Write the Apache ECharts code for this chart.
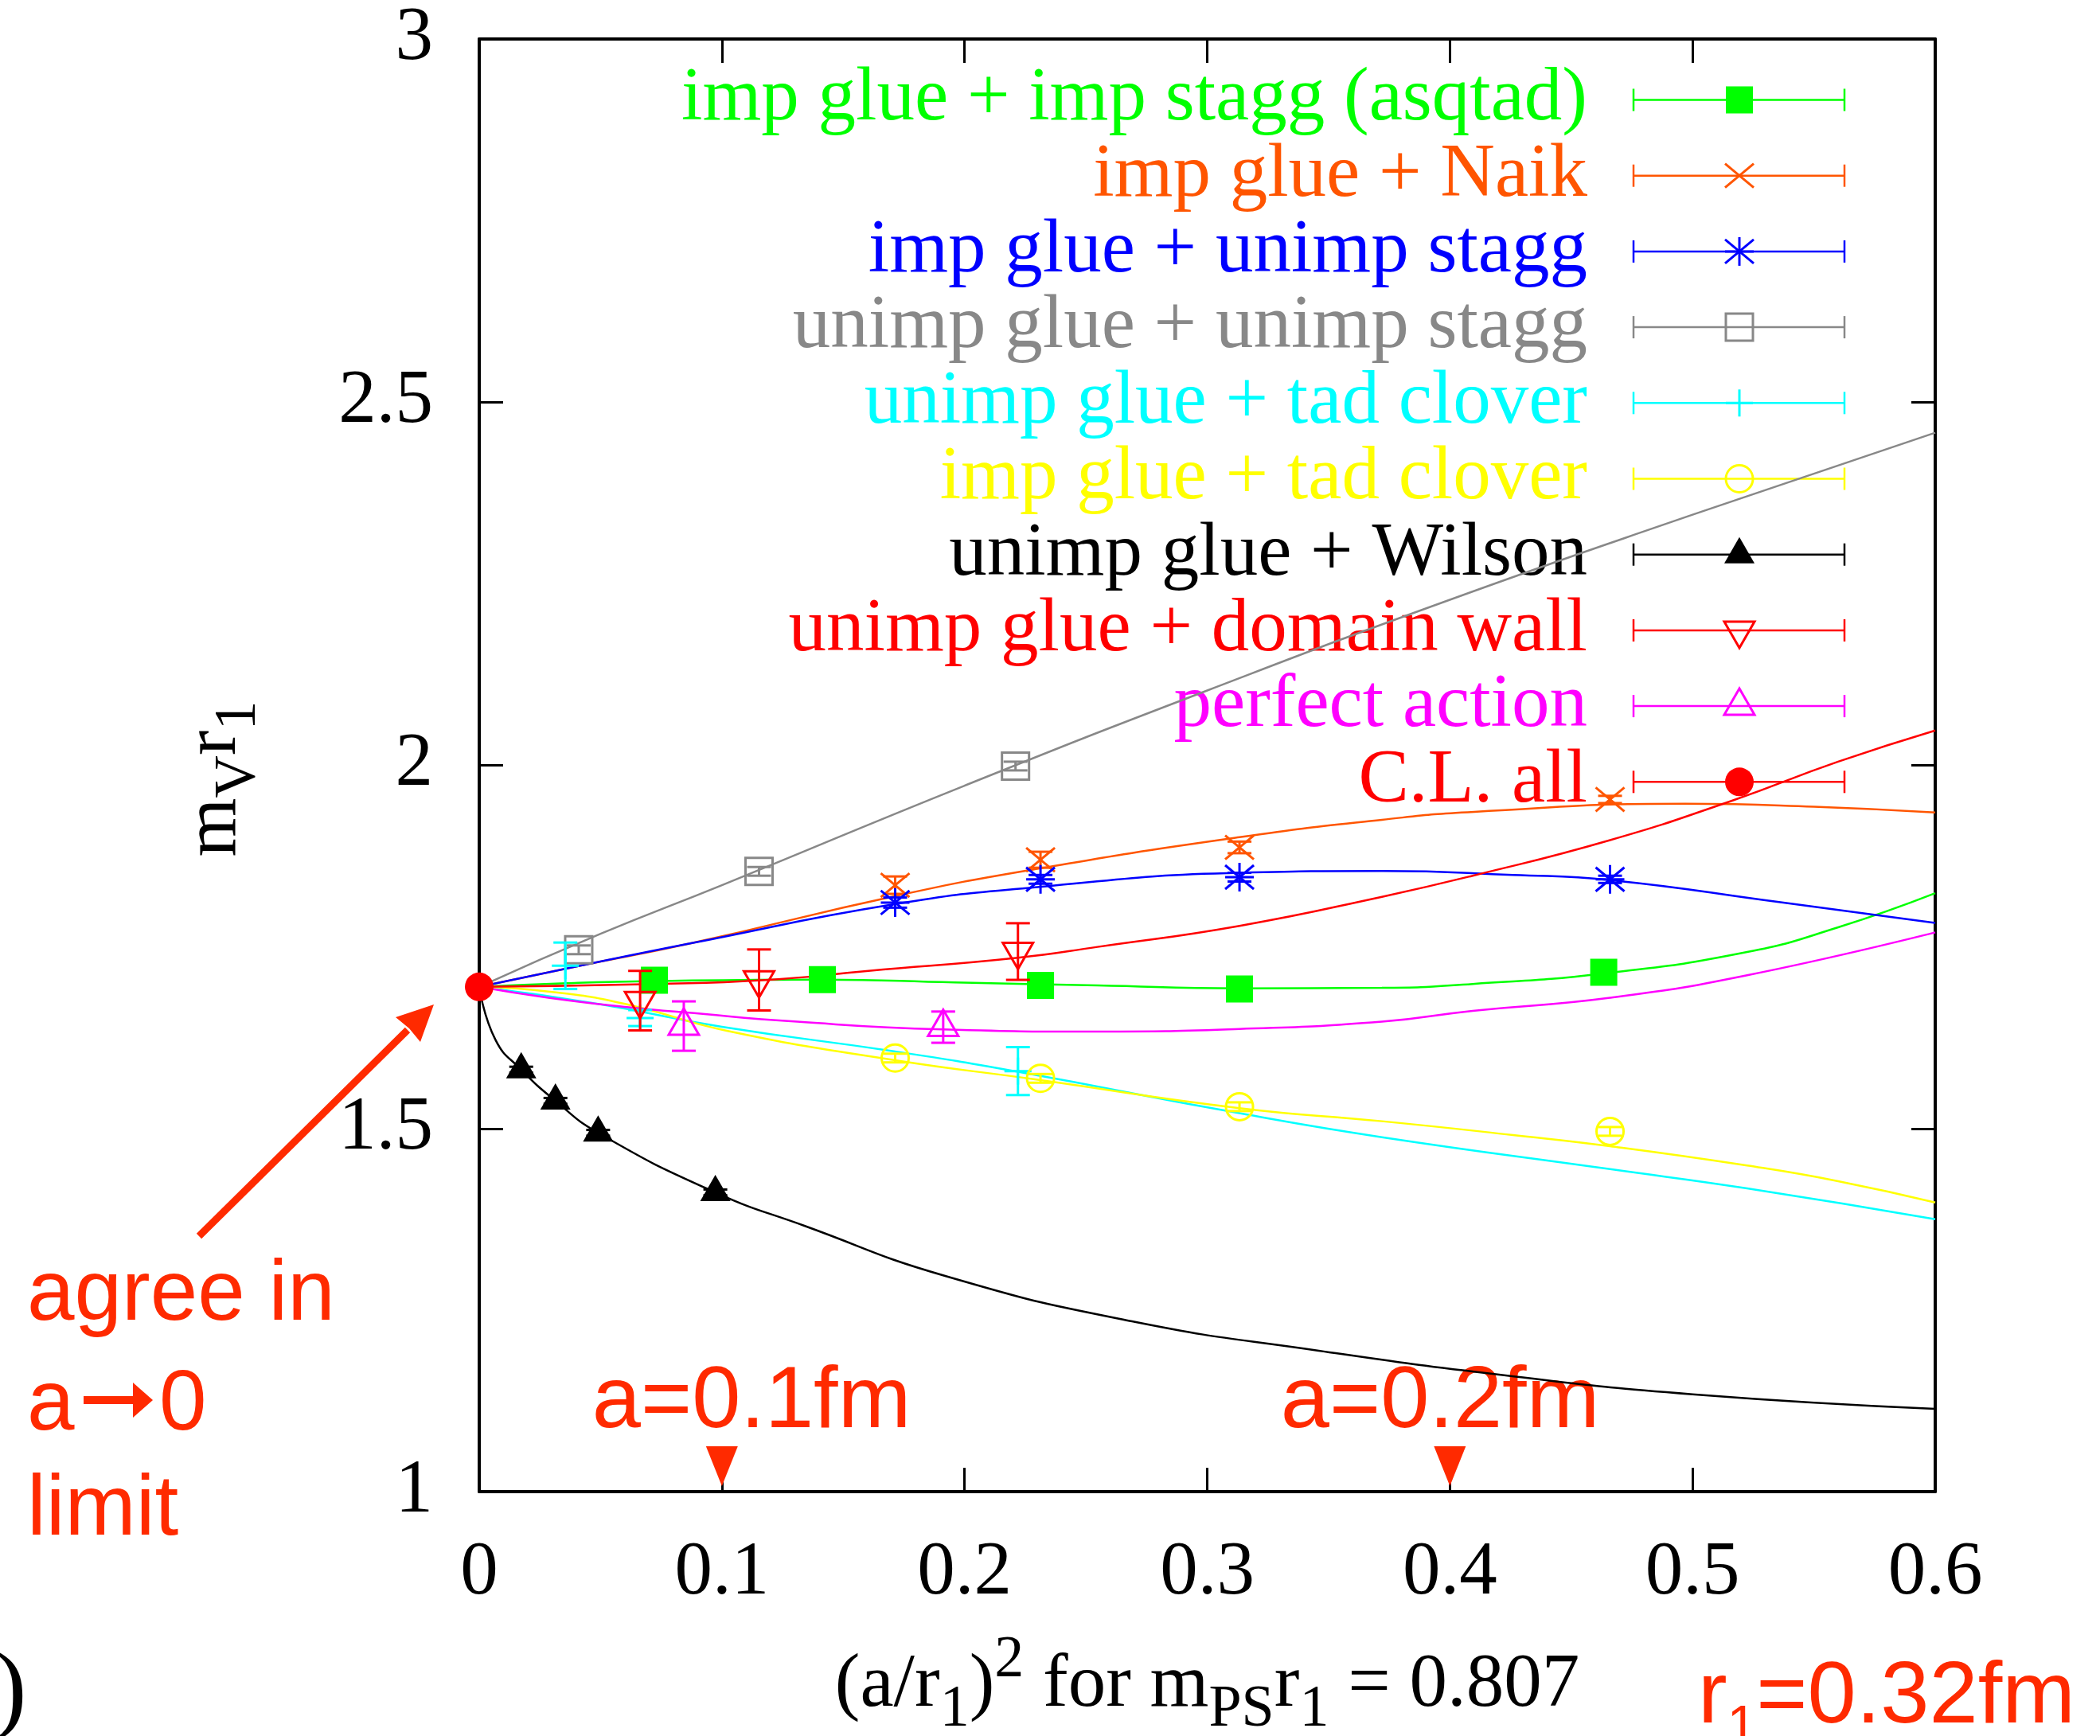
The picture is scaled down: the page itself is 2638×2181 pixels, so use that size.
<!DOCTYPE html>
<html>
<head>
<meta charset="utf-8">
<title>m_V r_1 vs (a/r_1)^2</title>
<script src="https://cdn.jsdelivr.net/npm/echarts@6.0.0/dist/echarts.min.js"></script>
<style>
  html, body { margin: 0; padding: 0; background: #fff; }
  #chart { width: 2638px; height: 2181px; }
</style>
</head>
<body>
<div id="chart"></div>
<script>
// points: [ (a/r1)^2, m_V r1, error ]
const clAll = [[0, 1.695, 0]];
const asqtadPts = [[0.0722, 1.704, 0.004], [0.1414, 1.705, 0.004], [0.2313, 1.697, 0.004], [0.3133, 1.692, 0.004], [0.4634, 1.715, 0.004]];
const naikPts = [[0.1714, 1.835, 0.012], [0.2313, 1.870, 0.011], [0.3133, 1.887, 0.008], [0.466, 1.953, 0.005]];
const unimpStaggPts = [[0.1714, 1.811, 0.007], [0.2313, 1.843, 0.006], [0.3133, 1.846, 0.006], [0.466, 1.843, 0.005]];
const unimpUnimpPts = [[0.041, 1.746, 0.006], [0.1153, 1.854, 0.006], [0.221, 1.999, 0.006]];
const unimpCloverPts = [[0.0355, 1.724, 0.032], [0.0663, 1.652, 0.011], [0.222, 1.579, 0.033]];
const impCloverPts = [[0.1714, 1.597, 0.006], [0.2313, 1.569, 0.006], [0.3133, 1.530, 0.006], [0.466, 1.496, 0.006]];
const wilsonPts = [[0.0173, 1.581, 0.004], [0.0314, 1.538, 0.004], [0.049, 1.494, 0.004], [0.0973, 1.412, 0.004]];
const domainWallPts = [[0.0663, 1.676, 0.041], [0.1153, 1.7045, 0.042], [0.222, 1.7436, 0.039]];
const perfectPts = [[0.0843, 1.641, 0.034], [0.1912, 1.6395, 0.0215]];

// fit curves, read at a handful of x values
const asqtadFit = [[0, 1.695], [0.036, 1.700], [0.0725, 1.703], [0.1414, 1.705], [0.196, 1.701], [0.2548, 1.697], [0.3133, 1.693], [0.372, 1.6936], [0.4094, 1.699], [0.4634, 1.7135], [0.5225, 1.743], [0.56, 1.777], [0.6, 1.824]];
const naikFit = [[0, 1.695], [0.04, 1.723], [0.0873, 1.755], [0.1714, 1.820], [0.229, 1.857], [0.3133, 1.901], [0.372, 1.925], [0.41, 1.936], [0.497, 1.947], [0.55, 1.943], [0.6, 1.935]];
const unimpStaggFit = [[0, 1.695], [0.04, 1.723], [0.0873, 1.755], [0.1714, 1.809], [0.229, 1.832], [0.3133, 1.852], [0.372, 1.8545], [0.426, 1.849], [0.466, 1.842], [0.535, 1.812], [0.6, 1.783]];
const unimpUnimpFit = [[0, 1.695], [0.05, 1.768], [0.1, 1.835], [0.2, 1.972], [0.3, 2.103], [0.4, 2.228], [0.5, 2.345], [0.6, 2.458]];
const unimpCloverFit = [[0, 1.695], [0.05, 1.671], [0.1, 1.640], [0.1714, 1.606], [0.222, 1.578], [0.3133, 1.521], [0.372, 1.488], [0.466, 1.444], [0.5225, 1.4175], [0.6, 1.375]];
const impCloverFit = [[0, 1.695], [0.03, 1.688], [0.0609, 1.671], [0.102, 1.6345], [0.1714, 1.594], [0.229, 1.5677], [0.3133, 1.528], [0.372, 1.510], [0.426, 1.491], [0.466, 1.4756], [0.5225, 1.449], [0.56, 1.4275], [0.6, 1.398]];
const wilsonFit = [[0, 1.695], [0.0067, 1.622], [0.0173, 1.581], [0.0314, 1.538], [0.049, 1.494], [0.0973, 1.412], [0.134, 1.366], [0.192, 1.297], [0.269, 1.2345], [0.346, 1.194], [0.423, 1.160], [0.5, 1.134], [0.6, 1.114]];
const domainWallFit = [[0, 1.695], [0.0725, 1.699], [0.1165, 1.704], [0.1604, 1.717], [0.222, 1.735], [0.2548, 1.750], [0.3133, 1.779], [0.372, 1.819], [0.4094, 1.848], [0.466, 1.897], [0.516, 1.951], [0.56, 2.005], [0.6, 2.048]];
const perfectFit = [[0, 1.695], [0.0285, 1.680], [0.0609, 1.667], [0.0843, 1.660], [0.131, 1.647], [0.191, 1.6364], [0.2548, 1.6334], [0.3133, 1.637], [0.372, 1.647], [0.4094, 1.662], [0.466, 1.680], [0.5225, 1.711], [0.6, 1.770]];

// lattice spacing markers a=0.1fm, a=0.2fm
const spacingX = [0.1, 0.4];
const spacingLabels = ['a=0.1fm', 'a=0.2fm'];

const legendNames = [
  'imp glue + imp stagg (asqtad)', 'imp glue + Naik', 'imp glue + unimp stagg',
  'unimp glue + unimp stagg', 'unimp glue + tad clover', 'imp glue + tad clover',
  'unimp glue + Wilson', 'unimp glue + domain wall', 'perfect action', 'C.L. all'
];

const SERIF = '"Liberation Serif", "Times New Roman", serif';
const SANS = '"Liberation Sans", Arial, sans-serif';
const NOTE = '#ff2a00';

const sets = [
  { pts: asqtadPts, fit: asqtadFit, color: '#00ff00', marker: 'squareFill' },
  { pts: naikPts, fit: naikFit, color: '#ff5500', marker: 'cross' },
  { pts: unimpStaggPts, fit: unimpStaggFit, color: '#0000ff', marker: 'star' },
  { pts: unimpUnimpPts, fit: unimpUnimpFit, color: '#888888', marker: 'squareOpen' },
  { pts: unimpCloverPts, fit: unimpCloverFit, color: '#00ffff', marker: 'plus' },
  { pts: impCloverPts, fit: impCloverFit, color: '#ffff00', marker: 'circleOpen' },
  { pts: wilsonPts, fit: wilsonFit, color: '#000000', marker: 'triUpFill' },
  { pts: domainWallPts, fit: domainWallFit, color: '#ff0000', marker: 'triDownOpen' },
  { pts: perfectPts, fit: perfectFit, color: '#ff00ff', marker: 'triUpOpen' },
  { pts: clAll, fit: null, color: '#ff0000', marker: 'circleFill' }
];

// gnuplot-like point types as zrender shapes
function markerShapes(kind, cx, cy, color) {
  const s = 17, lw = 3;
  const line = (x1, y1, x2, y2) => ({ type: 'line', shape: { x1, y1, x2, y2 }, style: { stroke: color, lineWidth: lw } });
  const tri = (down, filled) => {
    const h = 33, w = 19, sgn = down ? -1 : 1;
    return {
      type: 'polygon',
      shape: { points: [[cx, cy - sgn * h * 2 / 3], [cx + w, cy + sgn * h / 3], [cx - w, cy + sgn * h / 3]] },
      style: filled ? { fill: color } : { fill: 'none', stroke: color, lineWidth: lw }
    };
  };
  switch (kind) {
    case 'squareFill':
      return [{ type: 'rect', shape: { x: cx - s, y: cy - s, width: 2 * s, height: 2 * s }, style: { fill: color } }];
    case 'squareOpen':
      return [{ type: 'rect', shape: { x: cx - s, y: cy - s, width: 2 * s, height: 2 * s }, style: { fill: 'none', stroke: color, lineWidth: lw } }];
    case 'cross':
      return [line(cx - 18, cy - 15, cx + 18, cy + 15), line(cx - 18, cy + 15, cx + 18, cy - 15)];
    case 'star':
      return [line(cx - 18, cy - 15, cx + 18, cy + 15), line(cx - 18, cy + 15, cx + 18, cy - 15),
              line(cx, cy - 18, cx, cy + 18), line(cx - 18, cy, cx + 18, cy)];
    case 'plus':
      return [line(cx, cy - 17, cx, cy + 17), line(cx - 17, cy, cx + 17, cy)];
    case 'circleOpen':
      return [{ type: 'circle', shape: { cx, cy, r: 17 }, style: { fill: 'none', stroke: color, lineWidth: lw } }];
    case 'circleFill':
      return [{ type: 'circle', shape: { cx, cy, r: 18 }, style: { fill: color } }];
    case 'triUpFill': return [tri(false, true)];
    case 'triUpOpen': return [tri(false, false)];
    case 'triDownOpen': return [tri(true, false)];
  }
  return [];
}

const series = [];
sets.forEach((set, i) => {
  if (set.fit) {
    series.push({
      type: 'line', name: legendNames[i] + ' fit', data: set.fit,
      showSymbol: false, smooth: 0.5, z: 2,
      lineStyle: { color: set.color, width: 2.5 }
    });
  }
  series.push({
    type: 'custom', name: legendNames[i], data: set.pts, z: 4,
    dimensions: ['x', 'y', 'err'], encode: { x: 0, y: 1 },
    renderItem(params, api) {
      const x = api.value(0), y = api.value(1), e = api.value(2);
      const c = api.coord([x, y]);
      const children = [];
      if (e > 0) {
        const top = api.coord([x, y + e]), bot = api.coord([x, y - e]);
        const st = { stroke: set.color, lineWidth: 3 };
        children.push({ type: 'line', shape: { x1: c[0], y1: top[1], x2: c[0], y2: bot[1] }, style: st });
        children.push({ type: 'line', shape: { x1: c[0] - 15, y1: top[1], x2: c[0] + 15, y2: top[1] }, style: st });
        children.push({ type: 'line', shape: { x1: c[0] - 15, y1: bot[1], x2: c[0] + 15, y2: bot[1] }, style: st });
      }
      return { type: 'group', children: children.concat(markerShapes(set.marker, c[0], c[1], set.color)) };
    }
  });
});

series.push({
  type: 'scatter', name: 'spacing', z: 5,
  data: spacingX.map(x => [x, 1.035]),
  symbol: 'triangle', symbolRotate: 180, symbolSize: [40, 50],
  itemStyle: { color: NOTE, opacity: 1 }
});

// legend drawn by hand: text on the left, error-bar sample on the right
const graphics = [];
legendNames.forEach((name, i) => {
  const y = 125.5 + i * 95.2;
  const color = sets[i].color;
  const st = { stroke: color, lineWidth: 2.5 };
  graphics.push({ type: 'text', x: 1994, y, style: { text: name, fill: color, fontFamily: SERIF, fontSize: 95, align: 'right', verticalAlign: 'middle' } });
  graphics.push({ type: 'line', shape: { x1: 2052, y1: y, x2: 2317, y2: y }, style: st });
  graphics.push({ type: 'line', shape: { x1: 2052, y1: y - 14, x2: 2052, y2: y + 14 }, style: st });
  graphics.push({ type: 'line', shape: { x1: 2317, y1: y - 14, x2: 2317, y2: y + 14 }, style: st });
  markerShapes(sets[i].marker, 2185, y, color).forEach(m => graphics.push(m));
});

// red notes
const noteStyle = (text, size) => ({ text, fill: NOTE, fontFamily: SANS, fontSize: size, verticalAlign: 'middle' });
graphics.push({ type: 'text', x: 34, y: 1628, style: noteStyle('agree in', 107) });
graphics.push({ type: 'text', x: 34, y: 1766, style: noteStyle('a', 107) });
graphics.push({ type: 'text', x: 200, y: 1766, style: noteStyle('0', 107) });
graphics.push({ type: 'line', shape: { x1: 105, y1: 1759, x2: 170, y2: 1759 }, style: { stroke: NOTE, lineWidth: 10 } });
graphics.push({ type: 'polygon', shape: { points: [[167, 1737], [192, 1759], [167, 1781]] }, style: { fill: NOTE } });
graphics.push({ type: 'text', x: 34, y: 1898, style: noteStyle('limit', 107) });
graphics.push({ type: 'text', x: 944, y: 1763, style: Object.assign(noteStyle(spacingLabels[0], 110), { align: 'center' }) });
graphics.push({ type: 'text', x: 1809, y: 1763, style: Object.assign(noteStyle(spacingLabels[1], 110), { align: 'center' }) });
graphics.push({
  type: 'text', x: 2133, y: 2134,
  style: {
    text: '{n|r}{s|1}{n|=0.32fm}', fill: NOTE, verticalAlign: 'middle',
    rich: {
      n: { fontFamily: SANS, fontSize: 110, lineHeight: 140, fill: NOTE, verticalAlign: 'middle' },
      s: { fontFamily: SANS, fontSize: 66, lineHeight: 70, fill: NOTE, verticalAlign: 'bottom' }
    }
  }
});
// arrow pointing at the continuum value
graphics.push({ type: 'line', shape: { x1: 250, y1: 1553, x2: 512, y2: 1294 }, style: { stroke: NOTE, lineWidth: 9 } });
graphics.push({ type: 'polygon', shape: { points: [[545, 1262], [528, 1309], [514, 1292], [497, 1278]] }, style: { fill: NOTE } });
graphics.push({ type: 'text', x: -8, y: 2128, style: { text: ')', fill: '#000', fontFamily: SERIF, fontSize: 125, verticalAlign: 'middle' } });

const axisLine = { show: true, onZero: false, lineStyle: { color: '#000', width: 4 } };
const axisTick = { show: true, inside: true, length: 30, lineStyle: { color: '#000', width: 3 } };
const tickFont = { fontFamily: SERIF, fontSize: 95, color: '#000' };

const chart = echarts.init(document.getElementById('chart'));
chart.setOption({
  animation: false,
  backgroundColor: '#fff',
  grid: { left: 602, top: 49, width: 1829, height: 1825, outerBoundsMode: 'none', containLabel: false },
  xAxis: [
    {
      type: 'value', min: 0, max: 0.6, interval: 0.1, position: 'bottom',
      axisLine, axisTick, splitLine: { show: false },
      axisLabel: Object.assign({ margin: 56 }, tickFont),
      name: '{n|(a/r}{s|1}{n|)}{p|2}{n| for m}{s|PS}{n|r}{s|1}{n| = 0.807}',
      nameLocation: 'middle', nameGap: 176,
      nameTextStyle: {
        rich: {
          n: { fontFamily: SERIF, fontSize: 95, lineHeight: 136, color: '#000', verticalAlign: 'middle' },
          s: { fontFamily: SERIF, fontSize: 74, lineHeight: 76, color: '#000', verticalAlign: 'bottom' },
          p: { fontFamily: SERIF, fontSize: 74, lineHeight: 56, color: '#000', verticalAlign: 'top' }
        }
      }
    },
    {
      type: 'value', min: 0, max: 0.6, interval: 0.1, position: 'top',
      axisLine, axisTick, splitLine: { show: false }, axisLabel: { show: false }
    }
  ],
  yAxis: [
    {
      type: 'value', min: 1, max: 3, interval: 0.5, position: 'left',
      axisLine, axisTick, splitLine: { show: false },
      axisLabel: Object.assign({ margin: 58 }, tickFont),
      name: '{n|m}{s|V}{n|r}{s|1}',
      nameLocation: 'middle', nameRotate: 90, nameGap: 264,
      nameTextStyle: {
        padding: [0, 34, 0, 0],
        rich: {
          n: { fontFamily: SERIF, fontSize: 95, lineHeight: 136, color: '#000', verticalAlign: 'middle' },
          s: { fontFamily: SERIF, fontSize: 74, lineHeight: 76, color: '#000', verticalAlign: 'bottom' }
        }
      }
    },
    {
      type: 'value', min: 1, max: 3, interval: 0.5, position: 'right',
      axisLine, axisTick, splitLine: { show: false }, axisLabel: { show: false }
    }
  ],
  graphic: graphics,
  series
});
</script>
</body>
</html>
